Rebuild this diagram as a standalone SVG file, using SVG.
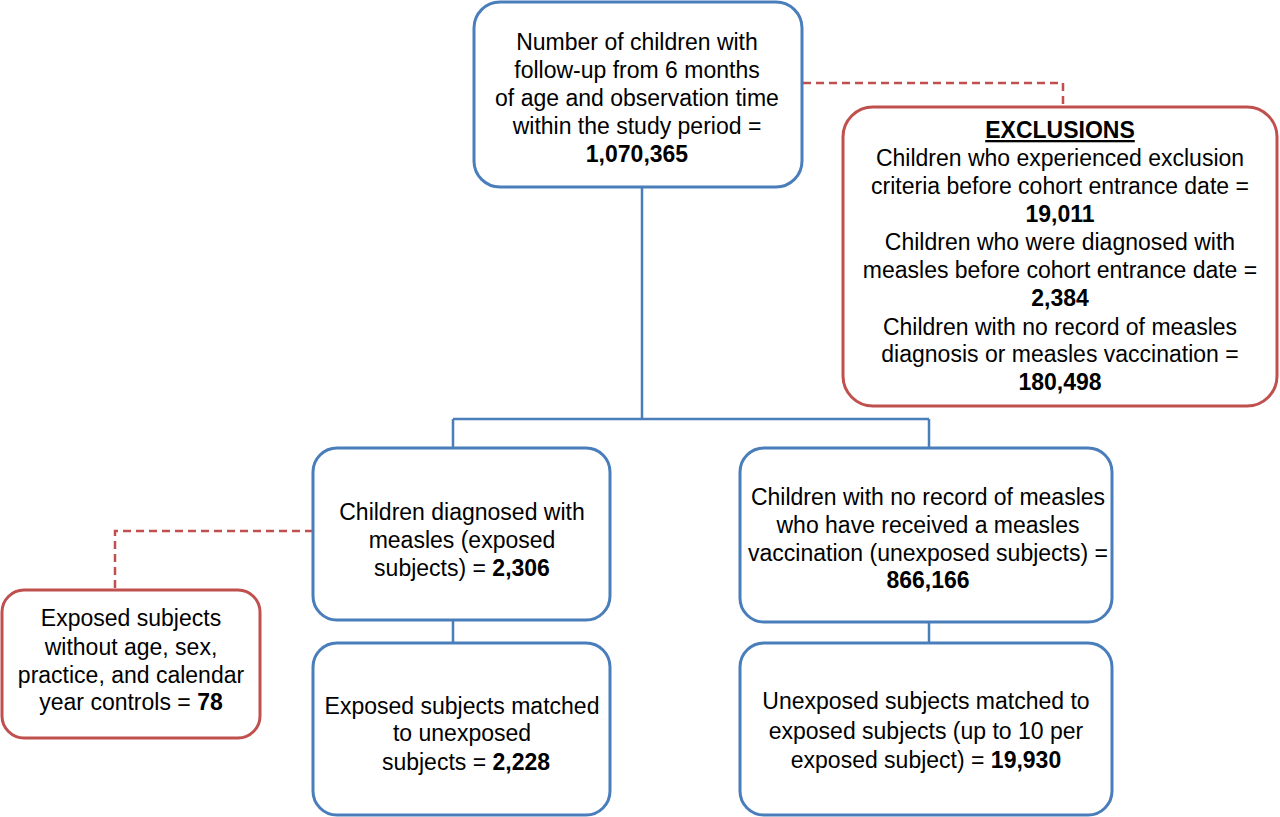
<svg xmlns="http://www.w3.org/2000/svg" width="1280" height="817" viewBox="0 0 1280 817">
<style>
.b{fill:#fff;stroke:#4a7ebb;stroke-width:3}
.r{fill:#fff;stroke:#c0504d;stroke-width:3}
.c{fill:none;stroke:#4a7ebb;stroke-width:2.5}
.d{fill:none;stroke:#c0504d;stroke-width:2.5;stroke-dasharray:8,5}
text{font-family:"Liberation Sans",Arial,sans-serif;font-size:23px;fill:#000;text-anchor:middle}
.k{font-weight:bold}
</style>
<rect width="1280" height="817" fill="#fff"/>
<g id="connectors">
<path class="c" d="M642,187V419M453,419H929M453,419V448M929,419V448M453,620V643M929,622V643"/>
<path class="d" d="M803,83H1063V107"/>
<path class="d" d="M313,531H115V590"/>
</g>
<g id="top">
<rect class="b" x="474" y="2" width="328" height="185" rx="26"/>
<text x="637" y="50">Number of children with</text>
<text x="637" y="78">follow-up from 6 months</text>
<text x="637" y="106">of age and observation time</text>
<text x="637" y="134">within the study period =</text>
<text x="637" y="162" class="k">1,070,365</text>
</g>
<g id="exclusions">
<rect class="r" x="843" y="107" width="434" height="299" rx="30"/>
<text x="1060" y="138" class="k" text-decoration="underline">EXCLUSIONS</text>
<text x="1060" y="166">Children who experienced exclusion</text>
<text x="1060" y="194">criteria before cohort entrance date =</text>
<text x="1060" y="222" class="k">19,011</text>
<text x="1060" y="250">Children who were diagnosed with</text>
<text x="1060" y="278">measles before cohort entrance date =</text>
<text x="1060" y="306" class="k">2,384</text>
<text x="1060" y="335">Children with no record of measles</text>
<text x="1060" y="362">diagnosis or measles vaccination =</text>
<text x="1060" y="390" class="k">180,498</text>
</g>
<g id="exposed">
<rect class="b" x="313" y="448" width="297" height="172" rx="24"/>
<text x="462" y="520">Children diagnosed with</text>
<text x="462" y="548">measles (exposed</text>
<text x="462" y="576">subjects) = <tspan class="k">2,306</tspan></text>
</g>
<g id="unexposed">
<rect class="b" x="740" y="448" width="372" height="174" rx="24"/>
<text x="928" y="505">Children with no record of measles</text>
<text x="928" y="533">who have received a measles</text>
<text x="928" y="561">vaccination (unexposed subjects) =</text>
<text x="928" y="588" class="k">866,166</text>
</g>
<g id="nocontrols">
<rect class="r" x="2" y="590" width="258" height="148" rx="22"/>
<text x="131" y="626">Exposed subjects</text>
<text x="131" y="655">without age, sex,</text>
<text x="131" y="683">practice, and calendar</text>
<text x="131" y="710">year controls = <tspan class="k">78</tspan></text>
</g>
<g id="matchedexposed">
<rect class="b" x="313" y="643" width="297" height="172" rx="24"/>
<text x="462" y="714">Exposed subjects matched</text>
<text x="462" y="741">to unexposed</text>
<text x="466" y="770">subjects = <tspan class="k">2,228</tspan></text>
</g>
<g id="matchedunexposed">
<rect class="b" x="740" y="643" width="372" height="172" rx="24"/>
<text x="926" y="709">Unexposed subjects matched to</text>
<text x="926" y="739">exposed subjects (up to 10 per</text>
<text x="926" y="768">exposed subject) = <tspan class="k">19,930</tspan></text>
</g>
</svg>
